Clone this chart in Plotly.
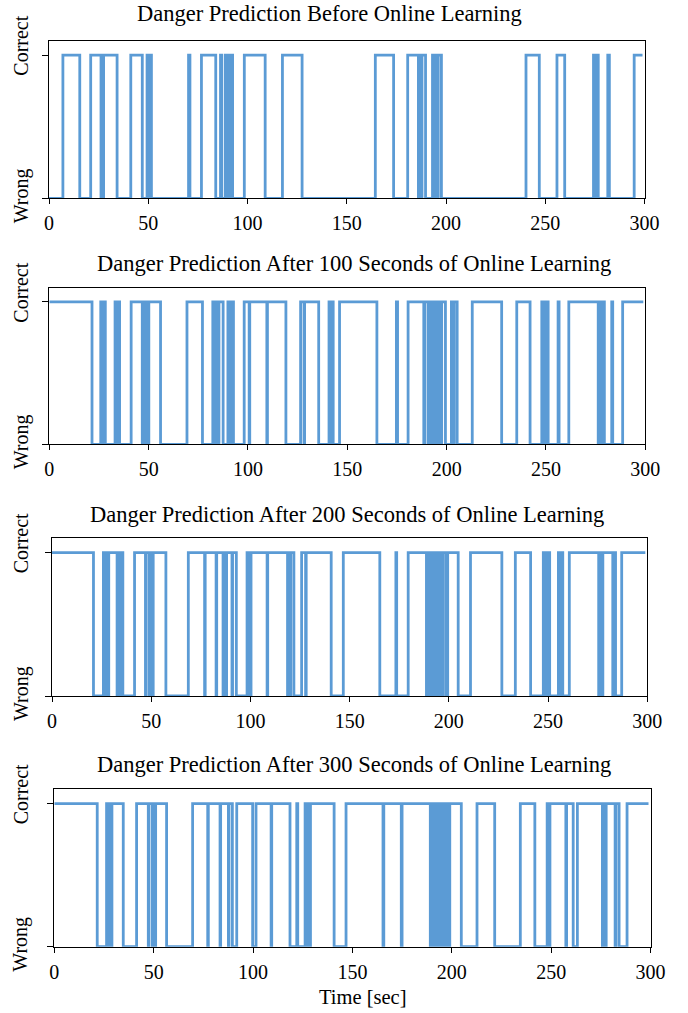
import plotly.graph_objects as go

# ---------------- data ----------------
X_TICKS = [0, 50, 100, 150, 200, 250, 300]
Y_LABELS = ["Wrong", "Correct"]
END_TIME = 299.0

TITLES = [
    "Danger Prediction Before Online Learning",
    "Danger Prediction After 100 Seconds of Online Learning",
    "Danger Prediction After 200 Seconds of Online Learning",
    "Danger Prediction After 300 Seconds of Online Learning",
]
X_TITLE = "Time [sec]"

# initial state (0 = Wrong, 1 = Correct) and times [sec] where the state toggles
P1_START = 0
P1_SWITCH = [7.0, 15.5, 21.0, 26.2, 26.6, 26.9, 27.5, 34.3, 41.2, 47.0, 49.4, 49.7, 50.6, 51.6,
             70.3, 71.0, 76.8, 84.0, 86.4, 87.0, 88.8, 89.1, 90.0, 90.3, 91.2, 92.5,
             98.4, 108.9, 117.6, 127.5, 164.4, 173.6, 180.7, 186.1, 186.4, 187.6, 187.9, 189.7,
             193.2, 194.3, 194.6, 195.8, 196.1, 197.7, 240.3, 247.0, 255.9, 259.8,
             274.3, 274.7, 275.5, 276.7, 281.5, 282.3, 294.8]

P2_START = 1
P2_SWITCH = [21.5, 25.9, 26.5, 27.6, 28.2, 33.1, 33.7, 34.8, 35.4, 41.2, 46.8, 47.3, 48.3, 48.7,
             49.7, 50.1, 56.0, 69.3, 77.1, 82.3, 83.3, 83.7, 85.0, 85.4, 87.5, 89.9, 90.3,
             91.4, 92.7, 98.1, 100.6, 100.9, 109.5, 109.8, 119.1, 126.5, 128.2, 128.5, 135.6,
             140.8, 141.3, 142.3, 142.9, 146.1, 164.9, 174.7, 175.3, 180.6, 188.5, 188.9,
             190.6, 190.9, 192.0, 192.3, 193.3, 193.6, 194.6, 194.9, 195.9, 196.2, 197.2,
             197.5, 199.4, 202.4, 202.8, 203.8, 205.3, 212.9, 227.7, 235.3, 242.0, 247.9,
             248.3, 249.3, 249.7, 250.7, 251.1, 256.1, 256.6, 261.5, 276.3, 276.7, 277.8,
             278.2, 279.4, 283.1, 283.6, 288.6]

P3_START = 1
P3_SWITCH = [20.9, 25.9, 26.2, 27.2, 27.5, 28.6, 32.8, 33.1, 34.2, 34.5, 35.7, 41.6, 47.1, 47.4,
             49.0, 49.3, 50.7, 51.0, 57.4, 68.7, 76.9, 77.2, 82.7, 83.0, 86.2, 86.5, 87.7,
             88.0, 90.7, 91.0, 92.9, 98.3, 99.3, 100.3, 108.4, 108.7, 118.7, 119.0, 120.0,
             120.3, 121.9, 125.8, 127.8, 128.1, 140.7, 146.8, 165.2, 173.3, 173.7, 179.5,
             188.7, 189.0, 190.4, 190.7, 192.0, 192.3, 193.6, 193.9, 195.2, 195.5, 196.8,
             197.1, 198.6, 199.4, 204.7, 210.9, 226.7, 233.5, 241.2, 247.6, 248.0, 249.0,
             249.4, 250.4, 250.8, 255.2, 255.6, 257.0, 257.4, 260.7, 275.5, 275.9, 277.2,
             277.6, 282.6, 283.0, 284.0, 287.1]

P4_START = 1
P4_SWITCH = [21.6, 26.3, 26.7, 27.7, 28.1, 29.0, 34.7, 41.4, 47.3, 47.6, 49.3, 49.6, 50.7, 51.0,
             56.5, 69.6, 77.2, 77.5, 83.4, 83.7, 87.6, 87.9, 89.6, 91.8, 99.8, 101.5, 109.1,
             109.4, 118.6, 122.0, 122.5, 126.2, 126.5, 127.5, 127.8, 128.9, 140.8, 146.8,
             165.4, 165.8, 174.6, 175.0, 189.2, 189.5, 190.9, 191.2, 192.6, 192.9, 194.3,
             194.6, 196.0, 196.3, 197.6, 199.0, 204.8, 212.7, 221.6, 234.5, 241.8, 248.0,
             248.4, 249.4, 257.4, 257.8, 261.1, 263.2, 275.8, 276.2, 277.3, 277.7, 282.2,
             282.6, 284.2, 288.2]

SERIES = [(P1_START, P1_SWITCH), (P2_START, P2_SWITCH), (P3_START, P3_SWITCH), (P4_START, P4_SWITCH)]

# ---------------- layout (pixel geometry) ----------------
W, H = 688, 1013
FONT = "Liberation Serif, Times New Roman, serif"
LINE_COLOR = "#5B9BD5"
# left, right, top, bottom of each plot area (pixels)
BOXES = [(49, 644.5, 40.7, 198.3),
         (49.3, 645.3, 287.7, 444.3),
         (52, 647.3, 538.3, 696),
         (54.3, 650.5, 789.3, 946.7)]
TITLE_POS = [(329, 14), (354, 264), (347.5, 514), (354, 764)]


def px(x):
    return x / W


def py(y):
    return 1 - y / H


def step_points(start, switches, end):
    xs, ys = [0.0], [start]
    s = start
    for t in switches:
        s = 1 - s
        xs.append(t)
        ys.append(s)
    xs.append(end)
    ys.append(s)
    return xs, ys


fig = go.Figure()
annotations = []
for i, ((start, sw), (l, r, t, b)) in enumerate(zip(SERIES, BOXES)):
    n = "" if i == 0 else str(i + 1)
    xs, ys = step_points(start, sw, END_TIME)
    fig.add_trace(go.Scatter(x=xs, y=ys, mode="lines", line=dict(color=LINE_COLOR, width=2.8, shape="hv"),
                             xaxis="x" + n, yaxis="y" + n, cliponaxis=False, showlegend=False,
                             hoverinfo="skip"))
    fig.layout["xaxis" + n] = dict(
        domain=[px(l), px(r)], range=[0, 300], anchor="y" + n, automargin=False,
        tickvals=X_TICKS, ticktext=[str(v) for v in X_TICKS],
        ticks="outside", ticklen=5, tickcolor="black", tickwidth=1, ticklabelstandoff=2,
        showline=True, linecolor="black", linewidth=1, mirror=True,
        showgrid=False, zeroline=False, fixedrange=True,
        tickfont=dict(family=FONT, size=20, color="black"),
    )
    fig.layout["yaxis" + n] = dict(
        domain=[py(b), py(t)], range=[0, 1.1], anchor="x" + n, automargin=False,
        tickvals=[0, 1], ticktext=["", ""],
        ticks="outside", ticklen=6, tickcolor="black", tickwidth=1,
        showline=True, linecolor="black", linewidth=1, mirror=True,
        showgrid=False, zeroline=False, fixedrange=True,
    )
    tx, ty = TITLE_POS[i]
    annotations.append(dict(text=TITLES[i], x=px(tx), y=py(ty), xref="paper", yref="paper",
                            xanchor="center", yanchor="middle", showarrow=False,
                            font=dict(family=FONT, size=22.5, color="black")))
    annotations.append(dict(text=Y_LABELS[1], x=px(21), y=py(t + 5), xref="paper", yref="paper",
                            xanchor="center", yanchor="middle", showarrow=False, textangle=-90,
                            font=dict(family=FONT, size=20, color="black")))
    annotations.append(dict(text=Y_LABELS[0], x=px(21), y=py(b - 2), xref="paper", yref="paper",
                            xanchor="center", yanchor="middle", showarrow=False, textangle=-90,
                            font=dict(family=FONT, size=20, color="black")))

annotations.append(dict(text=X_TITLE, x=px(363), y=py(997), xref="paper", yref="paper",
                        xanchor="center", yanchor="middle", showarrow=False,
                        font=dict(family=FONT, size=20.5, color="black")))

fig.update_layout(width=W, height=H, autosize=False, template="none",
                  margin=dict(l=0, r=0, t=0, b=0, pad=0),
                  paper_bgcolor="white", plot_bgcolor="white", annotations=annotations,
                  font=dict(family=FONT, color="black"))

fig.write_html("out.html", config={"displayModeBar": False})
